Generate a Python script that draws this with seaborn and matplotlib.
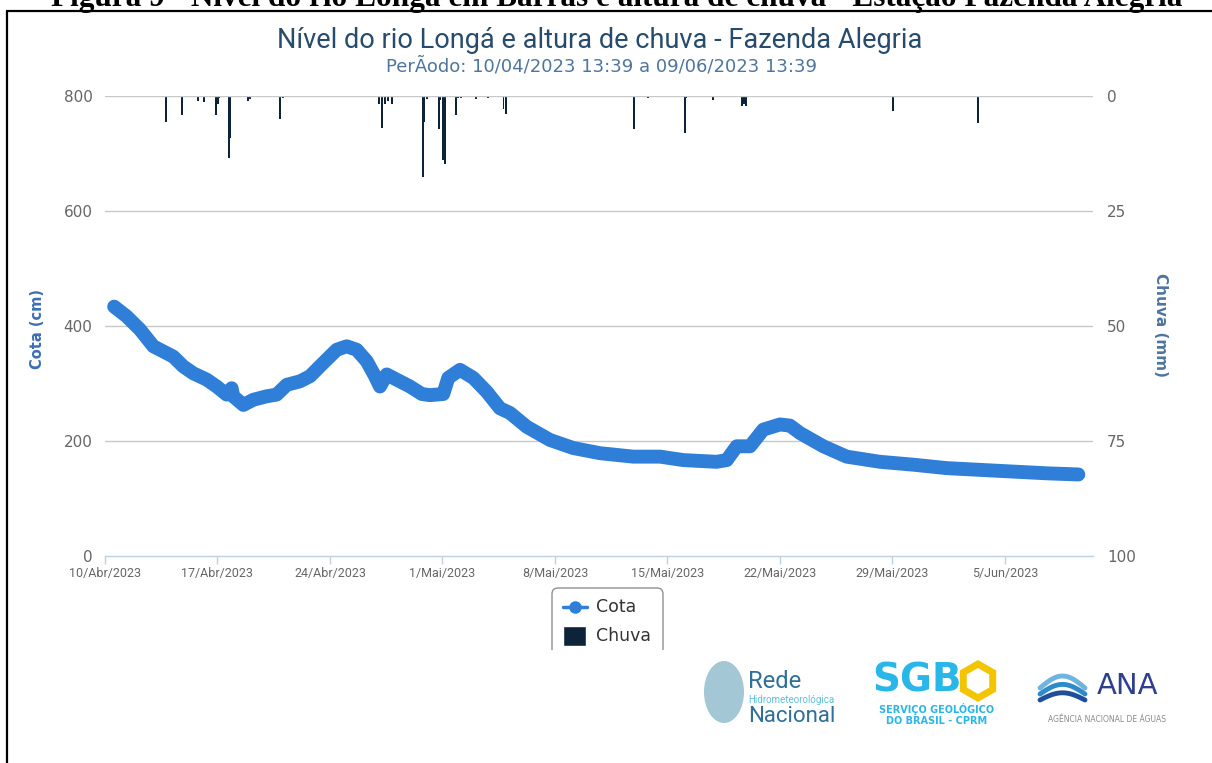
import numpy as np
import pandas as pd
import seaborn as sns
import matplotlib.pyplot as plt
from matplotlib.patches import FancyBboxPatch, Rectangle, Ellipse, RegularPolygon
from matplotlib.lines import Line2D
from matplotlib.transforms import IdentityTransform

# series start: 10/04/2023 00:00
start = pd.Timestamp('2023-04-10 00:00')

cota_days = [0.57, 1.35, 2.18, 3.01, 3.84, 4.25, 4.87, 5.49, 6.33, 6.95, 7.57, 7.88,
             7.98, 8.61, 9.23, 10.06, 10.68, 11.31, 12.13, 12.76, 13.58, 14.42, 15.04,
             15.66, 16.29, 16.80, 17.11, 17.53, 18.15, 18.98, 19.71, 20.22, 21.05, 21.36,
             22.09, 22.92, 23.75, 24.58, 25.20, 26.24, 27.69, 29.14, 30.80, 32.87, 34.54,
             35.99, 38.06, 38.69, 39.31, 40.14, 40.96, 42.00, 42.62, 43.25, 44.70, 46.15,
             48.23, 50.30, 52.38, 54.45, 56.52, 58.60, 60.57]
cota_cm = [433, 416, 393, 364, 352, 346, 329, 317, 306, 294, 280, 291,
           277, 262, 271, 277, 280, 297, 303, 312, 335, 358, 364,
           358, 338, 312, 294, 315, 306, 294, 281, 279, 281, 309,
           323, 309, 285, 256, 248, 224, 201, 187, 178, 172, 172,
           166, 163, 166, 190, 190, 219, 228, 226, 213, 190, 172,
           163, 158, 152, 149, 146, 143, 141]

chuva_days = [1.70, 3.81, 4.04, 4.79, 5.60, 5.79, 6.16, 6.93, 7.01, 7.11, 7.30, 7.73,
              7.80, 8.09, 8.51, 8.88, 9.02, 10.91, 11.08, 17.05, 17.22, 17.42, 17.61,
              17.84, 18.15, 19.10, 19.81, 19.87, 20.02, 20.78, 20.85, 21.05, 21.16,
              21.37, 21.56, 21.82, 21.97, 22.15, 23.09, 23.85, 24.80, 24.95, 25.45,
              28.50, 32.94, 33.77, 34.66, 36.09, 36.18, 36.47, 37.85, 39.62, 39.74,
              39.87, 40.01, 40.32, 40.70, 49.05, 49.66, 50.03, 50.72, 54.34, 59.97]
chuva_mm = [0.3, 5.7, 0.3, 4.1, 0.3, 1.2, 1.3, 4.3, 1.8, 0.4, 0.2, 13.6,
            9.1, 0.2, 0.2, 1.2, 0.7, 5.0, 0.6, 1.8, 7.1, 1.8, 1.2,
            1.7, 0.2, 0.2, 17.6, 5.7, 0.7, 7.3, 1.0, 14.0, 14.9,
            0.2, 0.2, 4.2, 0.6, 0.6, 0.8, 0.4, 2.8, 4.0, 0.2,
            0.2, 7.3, 0.6, 0.2, 8.1, 0.6, 0.2, 0.95, 2.2, 1.8,
            2.2, 0.2, 0.2, 0.2, 3.3, 0.2, 0.3, 0.2, 6.0, 0.3]

tick_days = [0, 7, 14, 21, 28, 35, 42, 49, 56]
tick_labels = ['10/Abr/2023', '17/Abr/2023', '24/Abr/2023', '1/Mai/2023', '8/Mai/2023',
               '15/Mai/2023', '22/Mai/2023', '29/Mai/2023', '5/Jun/2023']
cota_ticks = [0, 200, 400, 600, 800]
chuva_ticks = [0, 25, 50, 75, 100]

W, H = 1212, 763
PX = IdentityTransform()


def py(y):
    return H - y


sns.set_theme(style='white')
plt.rcParams['font.family'] = ['DejaVu Sans']

fig = plt.figure(figsize=(W / 100, H / 100), dpi=100)
ax = fig.add_axes([105 / W, 1 - 555.5 / H, (1093 - 105) / W, (555.5 - 95.7) / H])
ax2 = ax.twinx()
ax.set_zorder(2)
ax.patch.set_visible(False)

df_cota = pd.DataFrame({'time': start + pd.to_timedelta(cota_days, unit='D'), 'cota': cota_cm})
df_chuva = pd.DataFrame({'time': start + pd.to_timedelta(chuva_days, unit='D'), 'chuva': chuva_mm})

sns.lineplot(data=df_cota, x='time', y='cota', ax=ax, color='#2f7ed8', linewidth=10,
             solid_capstyle='round', solid_joinstyle='round')
ax2.bar(df_chuva['time'], df_chuva['chuva'], width=0.11, color='#0d233a', linewidth=0)

x0 = start
x1 = start + pd.Timedelta(days=61.48)
ax.set_xlim(x0, x1)
ax2.set_xlim(x0, x1)
ax.set_ylim(0, 800)
ax2.set_ylim(100, 0)

# grid and axes styling
for v in cota_ticks[1:]:
    ax.axhline(v, color='#c8c8c8', lw=1, zorder=0)
ax.set_yticks(cota_ticks)
ax2.set_yticks(chuva_ticks)
ax.set_xticks(start + pd.to_timedelta(tick_days, unit='D'))
ax.set_xticklabels(tick_labels, fontfamily='Roboto', fontsize=9, color='#666666')
ax.tick_params(axis='x', length=6, width=1, color='#c0d0e0', pad=2.5, bottom=True)
ax.tick_params(axis='y', length=0, pad=9, labelsize=11, labelcolor='#666666')
ax2.tick_params(axis='y', length=0, pad=10, labelsize=11, labelcolor='#666666')
ax.set_xlabel('')
ax.set_ylabel('')
for a in (ax, ax2):
    for s in ('top', 'left', 'right'):
        a.spines[s].set_visible(False)
ax2.spines['bottom'].set_visible(False)
ax.spines['bottom'].set_color('#c0d0e0')
ax.spines['bottom'].set_linewidth(1)

# titles
fig.text(600, py(40), 'Nível do rio Longá e altura de chuva - Fazenda Alegria', transform=PX,
         ha='center', va='center', fontsize=19.5, color='#274b6d', family='Roboto')
fig.text(601, py(66), 'PerÃodo: 10/04/2023 13:39 a 09/06/2023 13:39', transform=PX,
         ha='center', va='center', fontsize=13, color='#4d759e')
fig.text(38, py(329), 'Cota (cm)', transform=PX, rotation=90, ha='center', va='center',
         fontsize=10.5, fontweight='bold', color='#3d6eb4')
fig.text(1160, py(325), 'Chuva (mm)', transform=PX, rotation=270, ha='center', va='center',
         fontsize=11, fontweight='bold', color='#4d759e')

# legend (box clipped at bottom like the reference)
fig.add_artist(FancyBboxPatch((552, py(690)), 111, 102, boxstyle='round,pad=0,rounding_size=6',
                              transform=PX, facecolor='white', edgecolor='#909090', lw=1, zorder=5))
fig.add_artist(Line2D([563, 587], [py(607), py(607)], transform=PX, color='#2f7ed8', lw=2.5, zorder=6))
fig.add_artist(Line2D([575], [py(607)], transform=PX, color='#2f7ed8', marker='o', markersize=8,
                      zorder=6))
fig.text(596, py(607), 'Cota', transform=PX, ha='left', va='center', fontsize=12.5, color='#333333',
         zorder=6)
fig.add_artist(Rectangle((563, py(646)), 23, 20, transform=PX, facecolor='#0d233a', zorder=6))
fig.text(596, py(636), 'Chuva', transform=PX, ha='left', va='center', fontsize=12.5, color='#333333',
         zorder=6)
fig.add_artist(Rectangle((540, py(700)), 140, 50, transform=PX, facecolor='white', edgecolor='none',
                         zorder=7))

# logos approximated with text
fig.add_artist(Ellipse((724, py(692)), 40, 62, transform=PX, facecolor='#5a9ab5', alpha=0.55,
                       edgecolor='none'))
fig.text(748, py(681), 'Rede', transform=PX, ha='left', va='center', fontsize=17, color='#2f6f9a',
         family='Roboto')
fig.text(748, py(700), 'Hidrometeorológica', transform=PX, ha='left', va='center', fontsize=7,
         color='#5bc0de', family='Roboto')
fig.text(748, py(717), 'Nacional', transform=PX, ha='left', va='center', fontsize=16,
         color='#2f6f9a', family='Roboto')

fig.text(917, py(681), 'SGB', transform=PX, ha='center', va='center', fontsize=28,
         fontweight='heavy', color='#29b6e8')
fig.add_artist(RegularPolygon((978, py(681)), 6, radius=17, transform=PX, facecolor='none',
                              edgecolor='#f2c500', lw=5))
fig.text(937, py(709), 'SERVIÇO GEOLÓGICO', transform=PX, ha='center', va='center', fontsize=7,
         fontweight='bold', color='#29b6e8')
fig.text(937, py(721), 'DO BRASIL - CPRM', transform=PX, ha='center', va='center', fontsize=7,
         fontweight='bold', color='#29b6e8')

wx = np.linspace(1040, 1085, 30)
for k, c in enumerate(['#6fb3e0', '#2e8bc9', '#1f4f9a']):
    wy = 688 + k * 6 - 12 * np.sin((wx - 1040) / 45 * np.pi) * (1 - k * 0.2)
    fig.add_artist(Line2D(wx, H - wy, transform=PX, color=c, lw=3.5))
fig.text(1128, py(686), 'ANA', transform=PX, ha='center', va='center', fontsize=21,
         color='#2e3f8f')
fig.text(1107, py(719), 'AGÊNCIA NACIONAL DE ÁGUAS', transform=PX, ha='center', va='center',
         fontsize=5.5, color='#8a8a8a')

# document caption, clipped at top, and frame
fig.text(617, py(6), 'Figura 9 - Nível do rio Longá em Barras e altura de chuva - Estação Fazenda Alegria',
         transform=PX, ha='center', va='baseline', fontsize=22.5, fontweight='bold',
         family=['Liberation Serif', 'DejaVu Serif'], color='black')
fig.add_artist(Line2D([7, W], [py(11), py(11)], transform=PX, color='black', lw=1.6))
fig.add_artist(Line2D([7, 7], [py(11), 0], transform=PX, color='black', lw=1.6))

fig.savefig('out.png', dpi=100)
